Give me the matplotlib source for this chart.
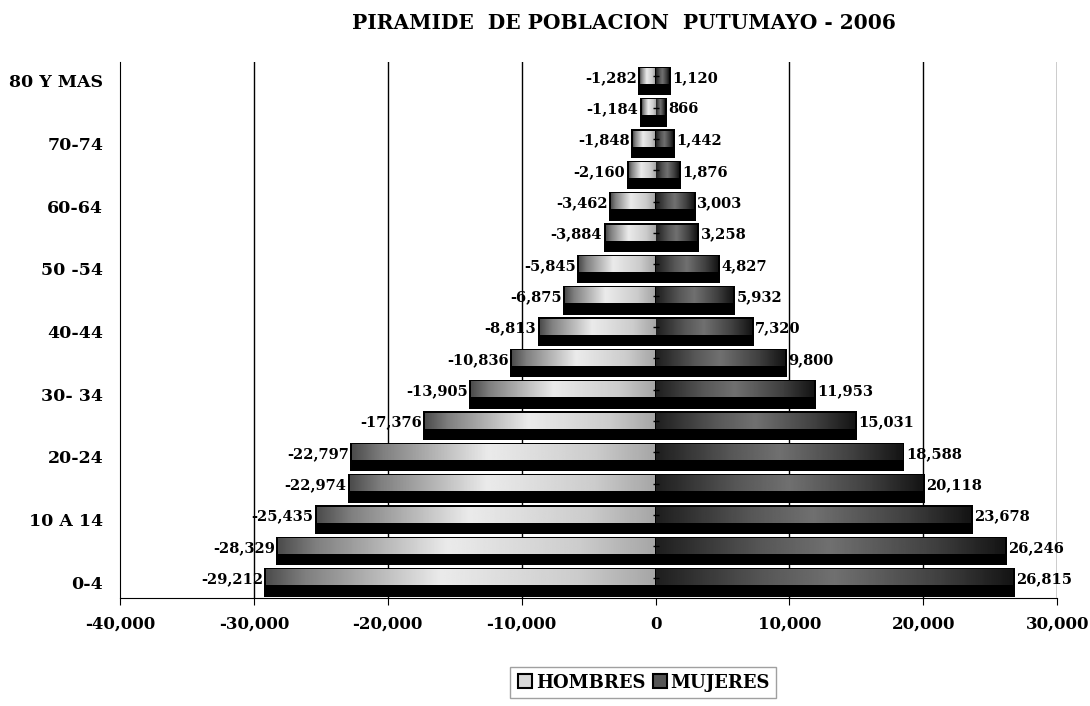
import numpy as np
import matplotlib.pyplot as plt
from matplotlib.lines import Line2D

# Age groups, bottom to top
grupos = ['0-4', '5-9', '10 A 14', '15-19', '20-24', '25-29', '30- 34', '35-39',
          '40-44', '45-49', '50 -54', '55-59', '60-64', '65-69', '70-74', '75-79',
          '80 Y MAS']
hombres = [-29212, -28329, -25435, -22974, -22797, -17376, -13905, -10836,
           -8813, -6875, -5845, -3884, -3462, -2160, -1848, -1184, -1282]
mujeres = [26815, 26246, 23678, 20118, 18588, 15031, 11953, 9800,
           7320, 5932, 4827, 3258, 3003, 1876, 1442, 866, 1120]
x_ticks = [-40000, -30000, -20000, -10000, 0, 10000, 20000, 30000]

plt.rcParams['font.family'] = ['DejaVu Serif']
plt.rcParams['font.weight'] = 'bold'

fig = plt.figure(figsize=(10.9, 7.06), dpi=100)
ax = fig.add_axes([0.110, 0.153, 0.860, 0.759])

# gradient profiles (gray levels) along each bar
g_h = np.interp(np.linspace(0, 1, 200), [0, 0.1, 0.45, 0.8, 1], [0.3, 0.5, 0.92, 0.8, 0.65])
g_m = np.interp(np.linspace(0, 1, 200), [0, 0.3, 0.5, 0.8, 1], [0.12, 0.34, 0.44, 0.25, 0.08])

y = np.arange(len(grupos))
inset = 150
for i in y:
    for val, grad in ((hombres[i], g_h), (mujeres[i], g_m)):
        ax.barh(i, val, height=0.92, left=0, color='black', zorder=2)
        x0, x1 = (val + inset, -60) if val < 0 else (60, val - inset)
        ax.imshow(grad[None, :], cmap='gray', vmin=0, vmax=1, aspect='auto',
                  extent=(x0, x1, i - 0.1, i + 0.41), zorder=3, interpolation='bilinear')
    ax.text(hombres[i] - 100, i + 0.1, f'{hombres[i]:,}', ha='right', va='center',
            fontsize=10.5, zorder=4)
    ax.text(mujeres[i] + 100, i + 0.1, f'{mujeres[i]:,}', ha='left', va='center',
            fontsize=10.5, zorder=4)
ax.plot([0] * len(y), y + 0.15, ls='none', marker='_', color='black', ms=4, zorder=4)

for t in x_ticks[1:]:
    if t != 0:
        ax.axvline(t, color='black', lw=1, zorder=1)

ax.set_xlim(-40000, 30000)
ax.set_ylim(-0.5, 16.6)
ax.set_xticks(x_ticks)
ax.set_xticklabels([f'{t:,}' for t in x_ticks], fontsize=12)
ax.set_yticks(y[::2])
ax.set_yticklabels(grupos[::2], fontsize=12.5)
ax.tick_params(axis='y', length=0, pad=12)
ax.tick_params(axis='x', length=5, direction='out', pad=8)
ax.spines['top'].set_visible(False)
ax.spines['right'].set_visible(False)

fig.suptitle('PIRAMIDE  DE POBLACION  PUTUMAYO - 2006', x=0.572, y=0.982,
             fontsize=14.5, fontweight='bold')

handles = [Line2D([], [], ls='none', marker='s', ms=10, mfc='#d8d8d8', mec='black', mew=1.5),
           Line2D([], [], ls='none', marker='s', ms=10, mfc='#555555', mec='black', mew=1.5)]
fig.legend(handles, ['HOMBRES', 'MUJERES'], loc='center', bbox_to_anchor=(0.59, 0.033),
           ncol=2, fontsize=13, frameon=True, fancybox=False, edgecolor='#888888',
           handletextpad=0.1, columnspacing=0.3, borderpad=0.35, handlelength=1)

fig.savefig('out.png', dpi=100)
